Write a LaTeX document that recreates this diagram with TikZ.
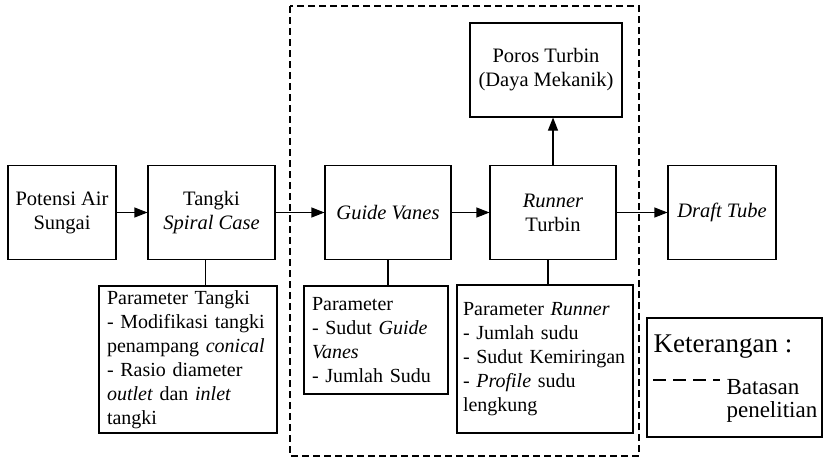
\documentclass[tikz,border=0pt]{standalone}
\usepackage{fontspec}
\setmainfont{Liberation Serif}
\usetikzlibrary{arrows.meta,positioning,calc}

\begin{document}
\begin{tikzpicture}[x=1pt, y=-1pt, line width=1.1pt,
        >={Triangle[length=13pt,width=10pt]},
        blok/.style={draw, align=center, minimum height=94pt, font=\fontsize{20.5}{24}\selectfont},
        param/.style={draw, align=left, inner xsep=8pt, inner ysep=2pt, minimum height=#1, font=\fontsize{20}{24}\selectfont},
        batas/.style={dash pattern=on 7pt off 4pt}]
        \useasboundingbox (0,0) rectangle (826,458);

        \draw[batas] (290,6) rectangle (639,456);

        \node[blok, minimum width=108pt] (potensi) at (62,212.5) {Potensi Air\\Sungai};
        \node[blok, minimum width=127pt] (tangki) at (211.5,212.5) {Tangki\\\textit{Spiral Case}};
        \node[blok, minimum width=126pt] (guide) at (388,212.5) {\textit{Guide Vanes}};
        \node[blok, minimum width=126pt] (runner) at (553,212.5) {\textit{Runner}\\Turbin};
        \node[blok, minimum width=152pt] (poros) at (546,70) {Poros Turbin\\(Daya Mekanik)};
        \node[blok, minimum width=108pt] (draft) at (722,212.5) {\textit{Draft Tube}};

        \node[param=147pt, text width=162pt] (ptangki) at (188,359.5) {Parameter Tangki\\- Modifikasi tangki\\penampang \textit{conical}\\- Rasio diameter\\\textit{outlet} dan \textit{inlet}\\tangki};
        \node[param=108pt, text width=128pt] (pguide) at (376,340) {Parameter\\- Sudut \textit{Guide}\\\textit{Vanes}\\- Jumlah Sudu};
        \node[param=148pt, inner xsep=6pt, text width=164pt] (prunner) at (545,359) {Parameter \textit{Runner}\\- Jumlah sudu\\- Sudut Kemiringan\\- \textit{Profile} sudu\\lengkung};

        \draw[->] (potensi) -- (tangki);
        \draw[->] (tangki) -- (guide);
        \draw[->] (guide) -- (runner);
        \draw[->] (runner) -- (draft);
        \draw[->] (runner.north) -- (runner.north |- poros.south);

        \draw ([xshift=-6pt]tangki.south) -- ([xshift=-6pt]tangki.south |- ptangki.north);
        \draw (guide.south) -- (guide.south |- pguide.north);
        \draw ([xshift=-5pt]runner.south) -- ([xshift=-5pt]runner.south |- prunner.north);

        % keterangan
        \node[draw, minimum width=175pt, minimum height=119pt] (ket) at (734.5,377.5) {};
        \node[anchor=base west, inner sep=0pt, font=\fontsize{27}{30}\selectfont] (ketjudul) at (653,352) {Keterangan :};
        \coordinate (garis1) at (653,380);
        \coordinate (garis2) at (720,380);
        \draw[dash pattern=on 13pt off 7pt, line width=2pt] (garis1) -- (garis2);
        \node[anchor=north west, inner sep=0pt, align=left, font=\fontsize{23}{23}\selectfont] (ketbatas) at (726,379) {Batasan\\penelitian};
\end{tikzpicture}
\end{document}
